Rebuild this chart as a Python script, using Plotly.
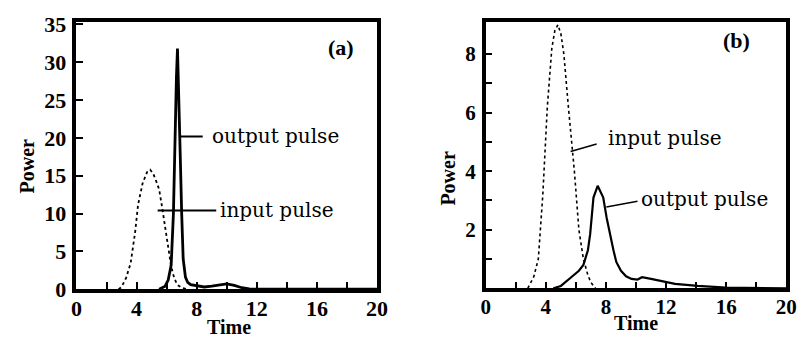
import plotly.graph_objects as go

# ---- data: panel (a)
a_in_t = [2.8, 3.0, 3.3, 3.6, 3.9, 4.1, 4.4, 4.7, 4.9, 5.1, 5.3, 5.5, 5.7, 5.9, 6.1, 6.3, 6.5, 6.7, 7.0, 7.4]
a_in_p = [0, 0.3, 1.5, 3.4, 7.5, 11.2, 14.0, 15.5, 15.8, 15.3, 14.3, 13.2, 10.8, 8.0, 5.5, 3.0, 1.5, 0.6, 0.2, 0]
a_out_t = [5.5, 5.9, 6.1, 6.3, 6.45, 6.55, 6.65, 6.72, 6.8, 6.9, 7.0, 7.1, 7.25, 7.4, 7.6, 8.0, 8.5, 9.0, 9.5, 10.0, 10.5, 11.0, 11.5, 12.0, 20.0]
a_out_p = [0, 0.4, 1.2, 3.2, 10, 20, 28, 31.8, 27, 18, 10, 4, 1.6, 0.9, 0.6, 0.5, 0.3, 0.4, 0.6, 0.7, 0.5, 0.2, 0.05, 0, 0]

# ---- data: panel (b)
b_in_t = [2.8, 3.2, 3.5, 3.8, 4.1, 4.4, 4.6, 4.8, 5.0, 5.2, 5.5, 5.9, 6.2, 6.5, 6.8, 7.0, 7.3]
b_in_p = [0, 0.4, 1.0, 3.2, 6.2, 8.2, 8.8, 9.0, 8.7, 8.0, 6.2, 4.0, 2.0, 1.0, 0.45, 0.2, 0]
b_out_t = [4.5, 5.0, 5.65, 6.2, 6.5, 6.8, 6.95, 7.17, 7.45, 7.82, 8.05, 8.25, 8.5, 8.69, 9.0, 9.34, 9.7, 10.1, 10.4, 11.0, 11.5, 12.6, 14.1, 16.0, 20.0]
b_out_p = [0, 0.08, 0.36, 0.6, 0.8, 1.3, 1.85, 3.1, 3.5, 3.1, 2.4, 1.85, 1.3, 0.9, 0.6, 0.41, 0.32, 0.3, 0.38, 0.32, 0.26, 0.15, 0.08, 0.02, 0]

x_ticks = [0, 2, 4, 6, 8, 10, 12, 14, 16, 18, 20]
x_text = ["0", "", "4", "", "8", "", "12", "", "16", "", "20"]
a_y_ticks = [0, 5, 10, 15, 20, 25, 30, 35]
a_y_text = ["0", "5", "10", "15", "20", "25", "30", "35"]
b_y_ticks = [1, 2, 3, 4, 5, 6, 7, 8]
b_y_text = ["", "2", "", "4", "", "6", "", "8"]

W, H = 810, 348
FONT = "Liberation Serif"
TFONT = "DejaVu Serif"

def px(v):
    return v / W

def py(v):
    return (H - v) / H

fig = go.Figure()
fig.add_trace(go.Scatter(x=a_in_t, y=a_in_p, mode="lines", line=dict(color="black", width=1.8, dash="dot"), xaxis="x", yaxis="y"))
fig.add_trace(go.Scatter(x=a_out_t, y=a_out_p, mode="lines", line=dict(color="black", width=2.8), xaxis="x", yaxis="y"))
fig.add_trace(go.Scatter(x=b_in_t, y=b_in_p, mode="lines", line=dict(color="black", width=1.6, dash="dot"), xaxis="x2", yaxis="y2"))
fig.add_trace(go.Scatter(x=b_out_t, y=b_out_p, mode="lines", line=dict(color="black", width=2.2), xaxis="x2", yaxis="y2"))

def axis_common(size):
    return dict(showline=True, linecolor="black", linewidth=3.5, mirror=True, ticks="inside",
                ticklen=7, tickwidth=2, tickcolor="black", showgrid=False, zeroline=False,
                tickfont=dict(family=FONT, size=size, color="black", weight="bold"))

fig.update_layout(
    width=W, height=H, margin=dict(l=0, r=0, t=0, b=0),
    paper_bgcolor="white", plot_bgcolor="white", showlegend=False,
    xaxis=dict(domain=[px(72), px(379)], range=[0, 20], tickmode="array", tickvals=x_ticks, ticktext=x_text,
               anchor="y", ticklabelstandoff=-3, **axis_common(22)),
    yaxis=dict(domain=[py(299), py(13)], range=[0, 35.3], tickmode="array", tickvals=a_y_ticks, ticktext=a_y_text,
               anchor="x", ticklabelstandoff=2, **axis_common(22)),
    xaxis2=dict(domain=[px(490), px(797)], range=[0, 20], tickmode="array", tickvals=x_ticks, ticktext=x_text,
                anchor="y2", ticklabelstandoff=-3, **axis_common(21)),
    yaxis2=dict(domain=[py(298), py(13)], range=[0, 9.09], tickmode="array", tickvals=b_y_ticks, ticktext=b_y_text,
                anchor="x2", ticklabelstandoff=2, **axis_common(21)),
)

ann_font = dict(family=TFONT, size=20, color="black")
# leader lines
fig.add_shape(type="line", xref="x", yref="y", x0=6.84, y0=20.2, x1=8.4, y1=20.2, line=dict(color="black", width=2))
fig.add_shape(type="line", xref="x", yref="y", x0=5.4, y0=10.4, x1=9.3, y1=10.4, line=dict(color="black", width=2))
fig.add_shape(type="line", xref="x2", yref="y2", x0=5.65, y0=4.67, x1=7.38, y1=4.93, line=dict(color="black", width=1.5))
fig.add_shape(type="line", xref="x2", yref="y2", x0=8.03, y0=2.78, x1=10.1, y1=2.97, line=dict(color="black", width=1.5))

fig.add_annotation(x=8.9, y=20.2, xref="x", yref="y", text="output pulse", showarrow=False, xanchor="left", yanchor="middle", font=ann_font)
fig.add_annotation(x=9.4, y=10.5, xref="x", yref="y", text="input pulse", showarrow=False, xanchor="left", yanchor="middle", font=ann_font)
fig.add_annotation(x=17.6, y=32, xref="x", yref="y", text="<b>(a)</b>", showarrow=False, xanchor="center", yanchor="middle",
                   font=dict(family=FONT, size=22, color="black"))
fig.add_annotation(x=8.0, y=5.13, xref="x2", yref="y2", text="input pulse", showarrow=False, xanchor="left", yanchor="middle", font=ann_font)
fig.add_annotation(x=10.2, y=3.06, xref="x2", yref="y2", text="output pulse", showarrow=False, xanchor="left", yanchor="middle", font=ann_font)
fig.add_annotation(x=16.7, y=8.45, xref="x2", yref="y2", text="<b>(b)</b>", showarrow=False, xanchor="center", yanchor="middle",
                   font=dict(family=FONT, size=22, color="black"))

title_font = dict(family=FONT, size=20, color="black", weight="bold")
fig.add_annotation(x=px(21), y=py(167), xref="paper", yref="paper", text="Power", textangle=-90, showarrow=False,
                   xanchor="center", yanchor="middle", font=title_font)
fig.add_annotation(x=px(452), y=py(180), xref="paper", yref="paper", text="Power", textangle=-90, showarrow=False,
                   xanchor="center", yanchor="middle", font=title_font)
fig.add_annotation(x=px(228), y=py(339), xref="paper", yref="paper", text="Time", showarrow=False,
                   xanchor="center", yanchor="middle", font=title_font)
fig.add_annotation(x=px(643), y=py(335), xref="paper", yref="paper", text="Time", showarrow=False,
                   xanchor="center", yanchor="middle", font=title_font)

fig.write_html("out.html", config={"displayModeBar": False},
               post_script="document.body.style.margin='0';document.body.style.overflow='hidden';")
